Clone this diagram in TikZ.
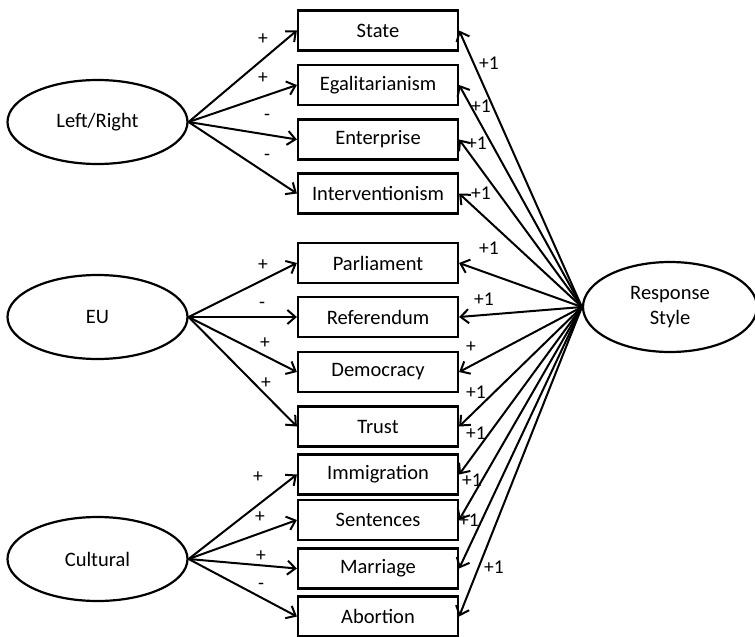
\documentclass[tikz,border=0pt]{standalone}
\usepackage{fontspec}
\setmainfont{Carlito}
\usetikzlibrary{arrows.meta,shapes.geometric}
\begin{document}
\begin{tikzpicture}[x=1pt,y=-1pt,
  box/.style={draw,line width=2.2pt,minimum width=160pt,minimum height=40pt,inner sep=0pt,font=\fontsize{20.5}{25}\selectfont},
  latent/.style={draw,ellipse,line width=2.2pt,minimum width=180pt,minimum height=84pt,inner sep=0pt,font=\fontsize{20.5}{25}\selectfont,align=center},
  conn/.style={line width=2pt,-{Straight Barb[length=8pt,width=14pt,line width=2pt]}},
  lbl/.style={inner sep=0pt,font=\fontsize{19.5}{22}\selectfont}
]
\useasboundingbox (0,0) rectangle (755,637);
% latent variables
\node[latent] (lr) at (97.5,122) {Left/Right};
\node[latent] (eu) at (97.5,317) {EU};
\node[latent] (cu) at (97.5,559) {Cultural};
\node[latent,minimum width=174pt,minimum height=90pt] (rs) at (670,307) {Response\\Style};
% indicators
\node[box] (state) at (378,30.5) {State};
\node[box] (egal) at (378,85) {Egalitarianism};
\node[box] (ent) at (378,139.5) {Enterprise};
\node[box] (int) at (378,193.5) {Interventionism};
\node[box] (parl) at (378,263) {Parliament};
\node[box] (ref) at (378,317) {Referendum};
\node[box] (dem) at (378,372) {Democracy};
\node[box] (trust) at (378,426.5) {Trust};
\node[box] (imm) at (378,474.5) {Immigration};
\node[box] (sent) at (378,520) {Sentences};
\node[box] (marr) at (378,568.5) {Marriage};
\node[box] (abo) at (378,616.5) {Abortion};
% left connectors
\draw[conn] (lr.east) -- (state.west);
\draw[conn] (lr.east) -- (egal.west);
\draw[conn] (lr.east) -- (ent.west);
\draw[conn] (lr.east) -- (int.west);
\draw[conn] (eu.east) -- (parl.west);
\draw[conn] (eu.east) -- (ref.west);
\draw[conn] (eu.east) -- (dem.west);
\draw[conn] (eu.east) -- (trust.west);
\draw[conn] (cu.east) -- (imm.west);
\draw[conn] (cu.east) -- (sent.west);
\draw[conn] (cu.east) -- (marr.west);
\draw[conn] (cu.east) -- (abo.west);
% right connectors
\foreach \n in {state,egal,ent,int,parl,ref,dem,trust,imm,sent,marr,abo}
  \draw[conn] (rs.west) -- (\n.east);
% left labels
\node[lbl] (l1) at (263,39) {+};
\node[lbl] (l2) at (263,78) {+};
\node[lbl] (l3) at (267,117) {-};
\node[lbl] (l4) at (267,157) {-};
\node[lbl] (l5) at (263,265) {+};
\node[lbl] (l6) at (262,305) {-};
\node[lbl] (l7) at (265,343) {+};
\node[lbl] (l8) at (266,383) {+};
\node[lbl] (l9) at (258,477) {+};
\node[lbl] (l10) at (260,517) {+};
\node[lbl] (l11) at (261,556) {+};
\node[lbl] (l12) at (261,586) {-};
% right labels
\node[lbl] (r1) at (489,63) {+1};
\node[lbl] (r2) at (481,106) {+1};
\node[lbl] (r3) at (477,143) {+1};
\node[lbl] (r4) at (481,193) {+1};
\node[lbl] (r5) at (489,248) {+1};
\node[lbl] (r6) at (484,299) {+1};
\node[lbl] (r7) at (471,347) {+};
\node[lbl] (r8) at (476,392) {+1};
\node[lbl] (r9) at (476,433) {+1};
\node[lbl] (r10) at (472,480) {+1};
\node[lbl] (r11) at (469,520) {+1};
\node[lbl] (r12) at (494,567) {+1};
\end{tikzpicture}
\end{document}
